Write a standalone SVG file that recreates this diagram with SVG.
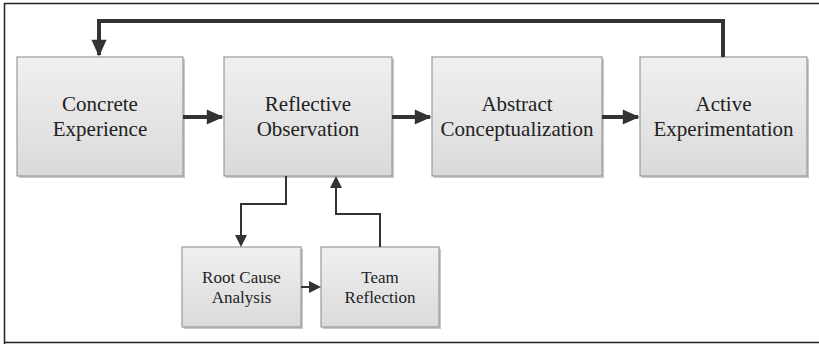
<svg xmlns="http://www.w3.org/2000/svg" width="819" height="344" viewBox="0 0 819 344">
<style>
.box{fill:url(#g);stroke:#9a9a9a;stroke-width:1.2;}
.sh{fill:#c8c8c8;}
text{font-family:'Liberation Serif','Times New Roman','DejaVu Serif',serif;fill:#222;text-anchor:middle;}
.big{font-size:21px;}
.sm{font-size:17px;}
.thick{fill:none;stroke:#333;stroke-width:4;}
.thin{fill:none;stroke:#333;stroke-width:2;}
</style>
<defs>
<linearGradient id="g" x1="0" y1="0" x2="0" y2="1">
<stop offset="0" stop-color="#f0f0f0"/>
<stop offset="1" stop-color="#dadada"/>
</linearGradient>
<marker id="ab" markerWidth="5" markerHeight="5" refX="3.8" refY="2" orient="auto" markerUnits="strokeWidth" overflow="visible">
<path d="M0,0.1 L4.2,2 L0,3.9 Z" fill="#333"/>
</marker>
<marker id="as" markerWidth="6" markerHeight="6" refX="5" refY="3" orient="auto" markerUnits="strokeWidth">
<path d="M0,0 L6,3 L0,6 Z" fill="#333"/>
</marker>
</defs>
<rect x="0" y="0" width="819" height="344" fill="#fff"/>
<path d="M4.5,344 V3.5 H819 M4.5,342.5 H819" fill="none" stroke="#222" stroke-width="1.5"/>

<g id="concrete">
<rect class="sh" x="19" y="59" width="166" height="119"/>
<rect class="box" x="17" y="57" width="166" height="119"/>
<text class="big" x="100" y="111">Concrete</text>
<text class="big" x="100" y="136">Experience</text>
</g>
<g id="reflective">
<rect class="sh" x="226" y="59" width="168" height="119"/>
<rect class="box" x="224" y="57" width="168" height="119"/>
<text class="big" x="308" y="111">Reflective</text>
<text class="big" x="308" y="136">Observation</text>
</g>
<g id="abstract">
<rect class="sh" x="434" y="59" width="170" height="119"/>
<rect class="box" x="432" y="57" width="170" height="119"/>
<text class="big" x="517" y="111">Abstract</text>
<text class="big" x="517" y="136">Conceptualization</text>
</g>
<g id="active">
<rect class="sh" x="642" y="59" width="167" height="119"/>
<rect class="box" x="640" y="57" width="167" height="119"/>
<text class="big" x="723.5" y="111">Active</text>
<text class="big" x="723.5" y="136">Experimentation</text>
</g>
<g id="rootcause">
<rect class="sh" x="184" y="249" width="119" height="80"/>
<rect class="box" x="182" y="247" width="119" height="80"/>
<text class="sm" x="241.5" y="283">Root Cause</text>
<text class="sm" x="241.5" y="303">Analysis</text>
</g>
<g id="team">
<rect class="sh" x="323" y="249" width="118" height="80"/>
<rect class="box" x="321" y="247" width="118" height="80"/>
<text class="sm" x="380" y="283">Team</text>
<text class="sm" x="380" y="303">Reflection</text>
</g>

<g id="connectors">
<path class="thick" d="M183,117 H222" marker-end="url(#ab)"/>
<path class="thick" d="M392,117 H430" marker-end="url(#ab)"/>
<path class="thick" d="M602,117 H638" marker-end="url(#ab)"/>
<path class="thick" d="M723,57 V21 H99 V55" marker-end="url(#ab)"/>
<path class="thin" d="M286,176 V204 H241 V245" marker-end="url(#as)"/>
<path class="thin" d="M301,287 H319" marker-end="url(#as)"/>
<path class="thin" d="M380,247 V214 H336 V178" marker-end="url(#as)"/>
</g>
</svg>
